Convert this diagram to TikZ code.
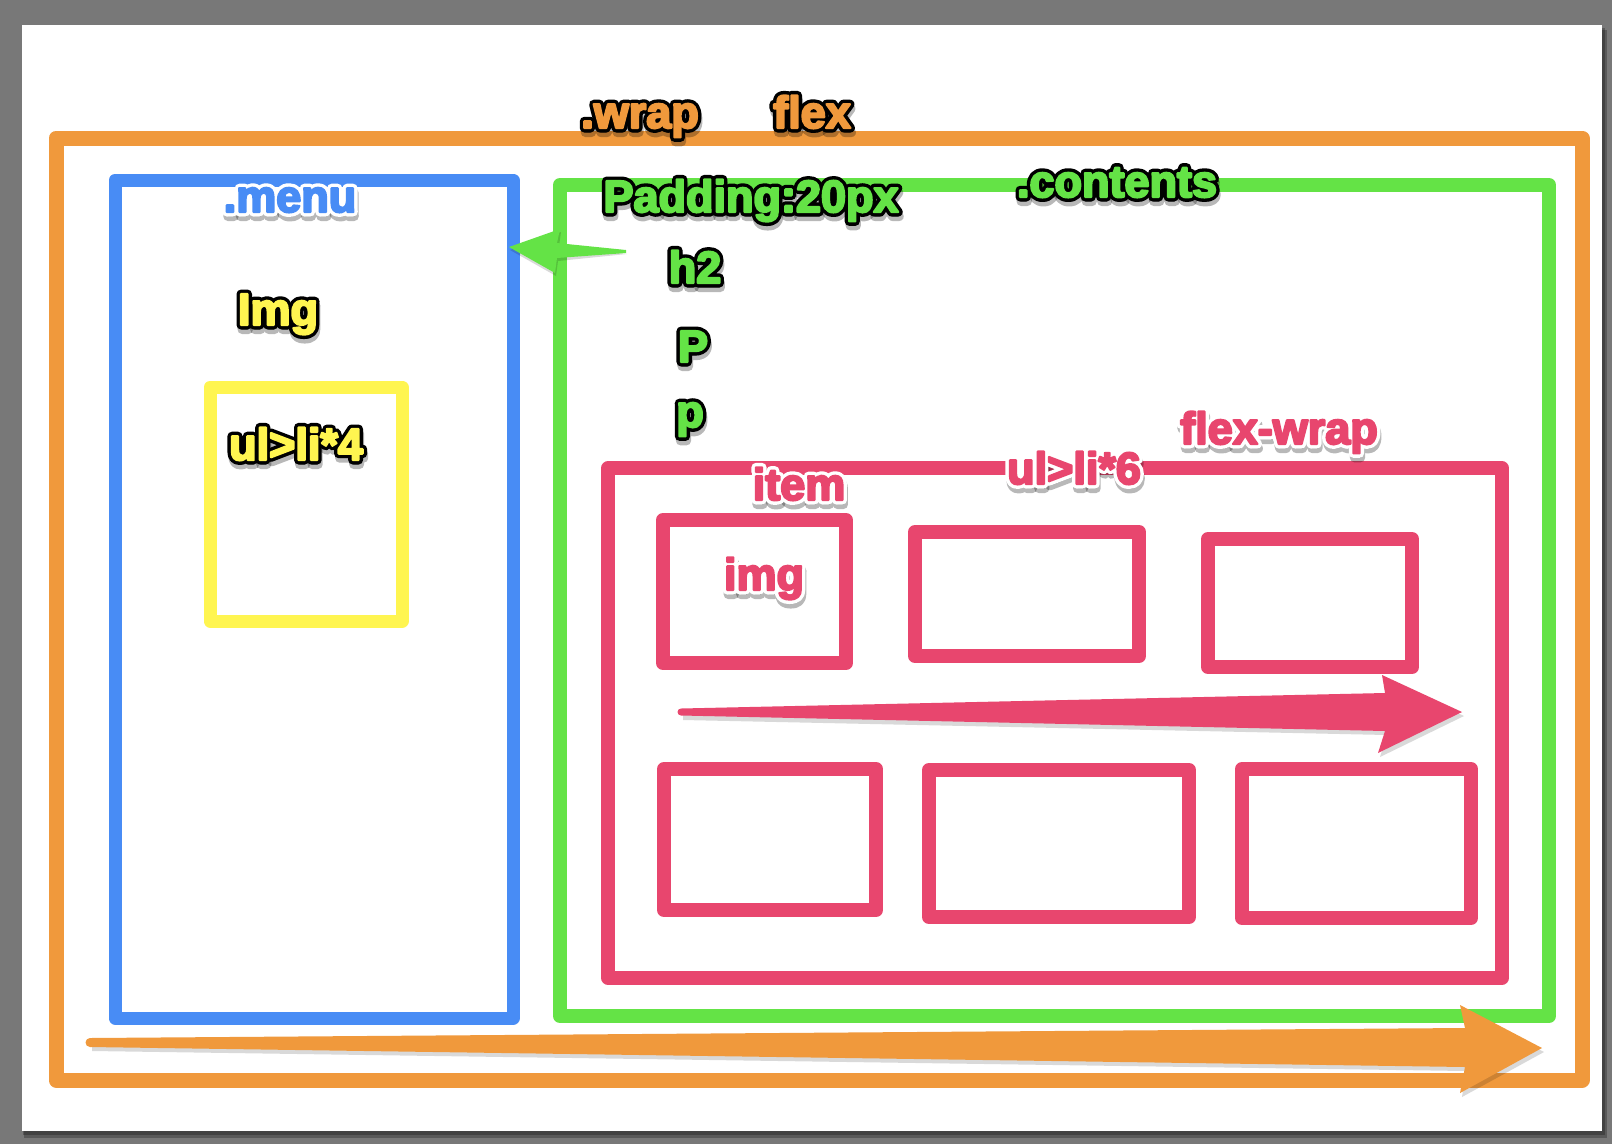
\documentclass[tikz,border=0pt]{standalone}
\usepackage{fontspec}
\setmainfont{Liberation Sans}
\definecolor{cOrange}{RGB}{240,153,60}
\definecolor{cBlue}{RGB}{72,140,245}
\definecolor{cGreen}{RGB}{100,227,70}
\definecolor{cPink}{RGB}{232,70,110}
\definecolor{cYellow}{RGB}{255,245,80}
\definecolor{cBack}{RGB}{120,120,120}
\tikzset{
  box/.style={draw, line width=14pt, line join=round, inner sep=0pt, outer sep=0pt},
  lbl/.style={anchor=base, inner sep=0pt, outer sep=0pt, font=\bfseries\fontsize{45}{50}\selectfont},
  arrowshape/.style={line join=round},
}
% text drawn as filled and stroked glyphs of width #1
\newcommand\heavy[2]{\special{pdf:literal direct 2 Tr #1 w 1 j 1 J}#2\special{pdf:literal direct 0 Tr}}
\newcommand\lab[6]{%
  \node[lbl, text=black, opacity=.28] at (#2+1,#3+4.5) {\heavy{9}{#6}};
  \node[lbl, text=#5] at (#2,#3) {\heavy{9}{#6}};
  \node[lbl, text=#4] (#1) at (#2,#3) {\heavy{2.2}{#6}};
}
\begin{document}
\begin{tikzpicture}[x=1pt,y=-1pt]
\useasboundingbox (0,0) rectangle (1612,1144);
% backdrop and page
\fill[cBack] (0,0) rectangle (1612,1144);
\fill[black, opacity=.25] (24,30) rectangle (1607,1138);
\fill[black, opacity=.25] (23,28) rectangle (1605,1135);
\fill[white] (22,25) rectangle (1602,1131);

% containers
\node[box, draw=cOrange, line width=15pt, minimum width=1526pt, minimum height=942pt] (wrap) at (819,609) {};
\node[box, draw=cBlue, line width=13pt, minimum width=398pt, minimum height=838pt] (menu) at (314,599) {};
\node[box, draw=cYellow, line width=13pt, minimum width=192pt, minimum height=234pt] (ul4) at (306,504) {};
\node[box, draw=cGreen, minimum width=989pt, minimum height=831pt] (contents) at (1054.5,600.5) {};
\node[box, draw=cPink, line width=13.5pt, minimum width=894pt, minimum height=510pt] (ul6) at (1055,723) {};
\node[box, draw=cPink, minimum width=183pt, minimum height=143pt] (item1) at (754.5,591.5) {};
\node[box, draw=cPink, minimum width=224pt, minimum height=124pt] (item2) at (1027,594) {};
\node[box, draw=cPink, minimum width=204pt, minimum height=128pt] (item3) at (1310,603) {};
\node[box, draw=cPink, minimum width=212pt, minimum height=141pt] (item4) at (770,839.5) {};
\node[box, draw=cPink, minimum width=260pt, minimum height=147pt] (item5) at (1059,843.5) {};
\node[box, draw=cPink, minimum width=229pt, minimum height=149pt] (item6) at (1356.5,843.5) {};

% arrows (filled shapes)
\coordinate (gTail) at (626,251.5);
\coordinate (gTip) at (509,247);
\fill[black, opacity=.15] (510,250) -- (561,232) -- (559,246) -- (627,254) -- (558,261) -- (556,276) -- cycle;
\fill[cGreen, arrowshape] (gTip) -- (560,229) -- (557,243) -- (626,250) -- (626,253) -- (557,258) -- (555,273) -- cycle;

\coordinate (pTail) at (681,712);
\coordinate (pTip) at (1462,712);
\fill[black, opacity=.15] (683,714) -- (1386,698) -- (1384,679) -- (1464,716) -- (1380,757) -- (1387,735) -- (683,720) -- cycle;
\fill[cPink, arrowshape] (681,708.5) -- (1385,693) -- (1382,675) -- (pTip) -- (1378,753) -- (1385,731) -- (681,715.5) arc[start angle=90, end angle=270, radius=3.5] -- cycle;

\coordinate (oTail) at (90,1042.5);
\coordinate (oTip) at (1542,1048);
\fill[black, opacity=.15] (92,1043) -- (1466,1032) -- (1462,1009) -- (1544,1052) -- (1462,1097) -- (1466,1071) -- (92,1051) -- cycle;
\fill[cOrange, arrowshape] (90,1038) -- (1465,1028) -- (1460,1005) -- (oTip) -- (1460,1093) -- (1465,1067) -- (90,1047) arc[start angle=90, end angle=270, radius=4.5] -- cycle;

% labels
\lab{wrapL}{640}{128}{cOrange}{black}{.wrap}
\lab{flexL}{812}{128}{cOrange}{black}{flex}
\lab{menuL}{290}{212}{cBlue}{white}{.menu}
\lab{padL}{751}{212}{cGreen}{black}{Padding:20px}
\lab{contentsL}{1117}{197}{cGreen}{black}{.contents}
\lab{h2L}{695}{283}{cGreen}{black}{h2}
\lab{imgL}{278}{325}{cYellow}{black}{Img}
\lab{PL}{693}{362}{cGreen}{black}{P}
\lab{pL}{690}{427}{cGreen}{black}{p}
\lab{ulfourL}{296}{460}{cYellow}{black}{ul>li*4}
\lab{fwL}{1279}{444}{cPink}{white}{flex-wrap}
\lab{ulsixL}{1074}{484}{cPink}{white}{ul>li*6}
\lab{itemL}{799}{500}{cPink}{white}{item}
\lab{imgtwoL}{764}{590}{cPink}{white}{img}
\end{tikzpicture}
\end{document}
